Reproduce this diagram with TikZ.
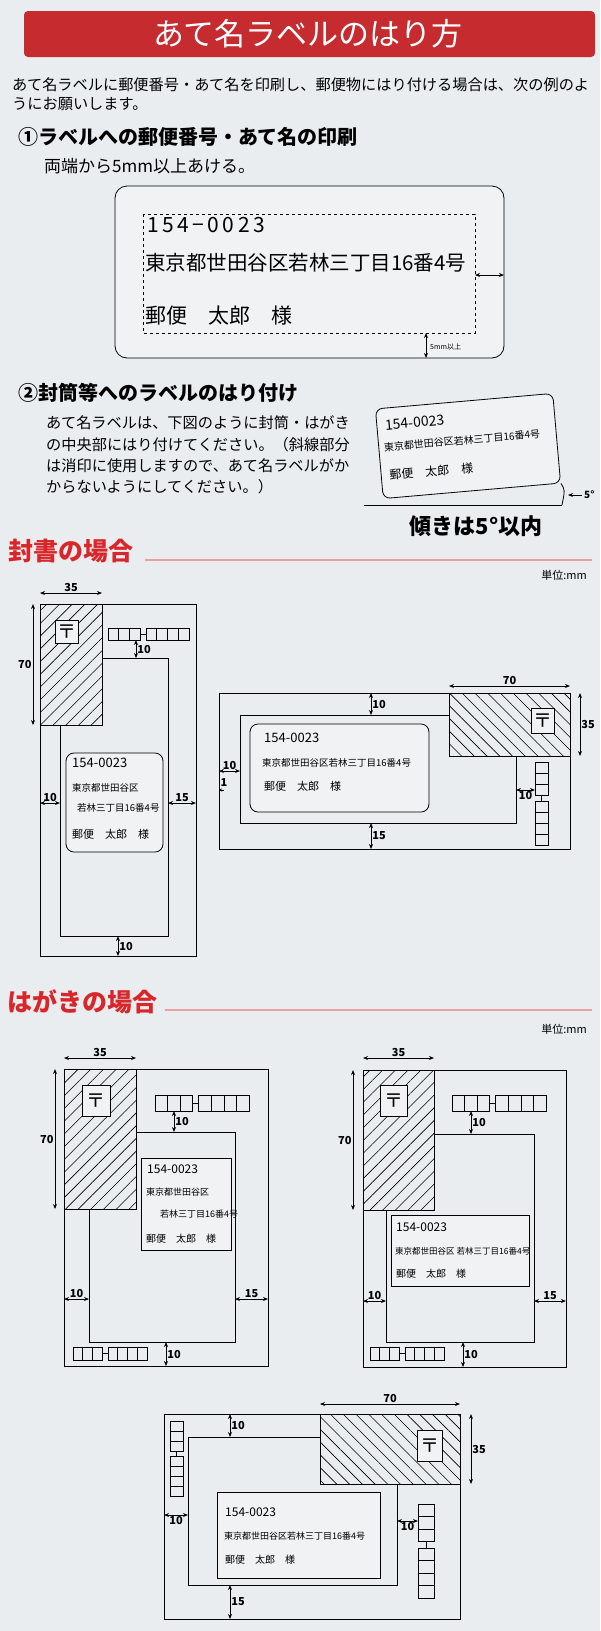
\documentclass[tikz,border=0pt]{standalone}
\usepackage{fontspec}
\setmainfont{Noto Sans CJK JP}
\usetikzlibrary{arrows.meta,patterns.meta}
\definecolor{paper}{HTML}{E9EDEF}
\definecolor{banner}{HTML}{C62B2F}
\definecolor{headred}{HTML}{D9262B}
\definecolor{rulered}{HTML}{E8A0A0}
\definecolor{labelfill}{HTML}{F0F2F3}
% zip code boxes: x y boxw boxh gap
\newcommand\zipH[5]{%
  \foreach \i in {0,...,6}{%
    \pgfmathsetmacro\xo{#1+\i*#3+(\i>2)*#5}
    \draw[zipbox] (\xo,#2) rectangle ++(#3,#4);}
  \draw[zipbox] (#1+3*#3,#2+#4/2) -- ++(#5,0);}
\newcommand\zipV[5]{%
  \foreach \i in {0,...,6}{%
    \pgfmathsetmacro\yo{#2+\i*#4+(\i>2)*#5}
    \draw[zipbox] (#1,\yo) rectangle ++(#3,#4);}
  \draw[zipbox] (#1+#3/2,#2+3*#4) -- ++(0,#5);}
\begin{document}
\begin{tikzpicture}[x=1pt,y=-1pt,
    env/.style={draw,line width=0.9pt},
    hatchN/.style={draw,line width=0.9pt,pattern={Lines[angle=45,distance=9pt,line width=0.6pt]}},
    hatchS/.style={draw,line width=0.9pt,pattern={Lines[angle=-45,distance=9pt,line width=0.6pt]}},
    addr/.style={draw,line width=0.8pt,fill=labelfill},
    zipbox/.style={line width=0.8pt},
    postbox/.style={draw,line width=0.8pt,fill=labelfill,inner sep=0pt,font=\fontsize{19}{19}\selectfont},
    dim/.style={{Stealth[length=5pt,width=4pt]}-{Stealth[length=5pt,width=4pt]},line width=0.9pt},
    dimtxt/.style={font=\fontsize{11}{11}\selectfont\bfseries,inner sep=1pt},
    body/.style={anchor=west,font=\fontsize{15.2}{15}\selectfont,inner sep=0pt},
    head/.style={anchor=west,font=\fontsize{20}{20}\selectfont\bfseries,inner sep=0pt},
    sect/.style={anchor=west,font=\fontsize{25}{25}\selectfont\bfseries,text=headred,inner sep=0pt},
    txt/.style={anchor=west,inner sep=0pt}
    ]
  \fill[paper] (0,0) rectangle (600,1631);
  \useasboundingbox (0,0) rectangle (600,1631);

  % title
  \fill[banner,rounded corners=4pt] (24,11) rectangle (595,57);
  \node[text=white,font=\fontsize{31}{31}\selectfont] (title) at (308,34) {あて名ラベルのはり方};
  \node[body] (intro1) at (12,85) {あて名ラベルに郵便番号・あて名を印刷し、郵便物にはり付ける場合は、次の例のよ};
  \node[body] (intro2) at (12,104) {うにお願いします。};

  % (1)
  \node[head] (h1) at (18,137) {①ラベルへの郵便番号・あて名の印刷};
  \node[body,font=\fontsize{17}{17}\selectfont] (h1a) at (44,166) {両端から5mm以上あける。};
  \draw[addr,rounded corners=12pt] (115,186) rectangle (504,358);
  \draw[dashed,line width=0.7pt] (143,214) rectangle (475,333);
  \node[txt,font=\fontsize{21}{21}\selectfont] (z1) at (147,225) {1\,5\,4\,−\,0\,0\,2\,3};
  \node[txt,font=\fontsize{20.5}{21}\selectfont] (a1) at (145,263) {東京都世田谷区若林三丁目16番4号};
  \node[txt,font=\fontsize{21}{21}\selectfont] (n1) at (145,316) {郵便\quad 太郎\quad 様};
  \draw[dim] (475,275) -- (504,275);
  \draw[dim] (426,333) -- (426,358);
  \node[txt,font=\fontsize{7}{7}\selectfont] (m1) at (430,347) {5mm以上};

  % (2)
  \node[head] (h2) at (18,393) {②封筒等へのラベルのはり付け};
  \node[body] (p1) at (46,423) {あて名ラベルは、下図のように封筒・はがき};
  \node[body] (p2) at (46,445) {の中央部にはり付けてください。（斜線部分};
  \node[body] (p3) at (46,466) {は消印に使用しますので、あて名ラベルがか};
  \node[body] (p4) at (46,487) {からないようにしてください。）};
  \begin{scope}[shift={(468,446)},rotate=5,transform shape]
    \node[addr,rounded corners=7pt,minimum width=178pt,minimum height=90pt] (tilt) {};
    \node[txt,font=\fontsize{14}{14}\selectfont] (z2) at (-81,-28) {154-0023};
    \node[txt,font=\fontsize{10}{10}\selectfont] (a2) at (-84,-6) {東京都世田谷区若林三丁目16番4号};
    \node[txt,font=\fontsize{12}{12}\selectfont] (n2) at (-81,22) {郵便\quad 太郎\quad 様};
  \end{scope}
  \coordinate (base0) at (364,505);
  \coordinate (base1) at (562,505);
  \draw[line width=0.8pt] (base0) -- (base1);
  \draw[line width=0.8pt] (tilt.south east) .. controls (565,490) .. (base1);
  \coordinate (ang) at (582,495);
  \draw[-{Stealth[length=5pt,width=4pt]},line width=0.9pt] (ang) -- (568,495);
  \node[txt,font=\fontsize{10}{10}\selectfont\bfseries] (deg) at (584,495) {5°};
  \node[font=\fontsize{22}{22}\selectfont\bfseries] (tilttxt) at (476,526) {傾きは5°以内};

  % envelopes
  \node[sect] (s1) at (8,551) {封書の場合};
  \draw[rulered,line width=2pt] (145,560) -- (592,560);
  \node[anchor=east,font=\fontsize{11}{11}\selectfont,inner sep=0pt] (unit1) at (587,575) {単位:mm};

  % portrait envelope
  \draw[env] (40,604) rectangle (196,956);
  \draw[hatchN] (40,604) rectangle (102,725);
  \draw[env] (60,725) -- (60,936) -- (168,936) -- (168,658) -- (102,658);
  \node[postbox,minimum width=23pt,minimum height=23pt] (t1) at (66.5,631.5) {〒};
  \zipH{108}{628}{10.8}{12}{5.5}
  \draw[addr,rounded corners=8pt] (66,753) rectangle (163,852);
  \node[txt,font=\fontsize{13}{13}\selectfont] (z3) at (72,763) {154-0023};
  \node[txt,font=\fontsize{9.5}{10}\selectfont] (a3) at (72,788) {東京都世田谷区};
  \node[txt,font=\fontsize{9.5}{10}\selectfont] (b3) at (77,808) {若林三丁目16番4号};
  \node[txt,font=\fontsize{11}{11}\selectfont] (n3) at (72,834) {郵便\quad 太郎\quad 様};
  \draw[dim] (40,593) -- node[dimtxt,above] {35} (102,593);
  \draw[dim] (33,604) -- node[dimtxt,left] {70} (33,725);
  \draw[dim] (136,640) -- node[dimtxt,right] {10} (136,658);
  \draw[dim] (40,803) -- node[dimtxt,above] {10} (60,803);
  \draw[dim] (168,803) -- node[dimtxt,above] {15} (196,803);
  \draw[dim] (118,936) -- node[dimtxt,right] {10} (118,956);

  % landscape envelope
  \draw[env] (219,693) rectangle (570,849);
  \draw[hatchS] (449,693) rectangle (570,756);
  \draw[env] (449,715) -- (240,715) -- (240,823) -- (516,823) -- (516,756);
  \node[postbox,minimum width=23pt,minimum height=25pt] (t2) at (542.5,720.5) {〒};
  \zipV{535}{762}{13}{11}{6}
  \draw[addr,rounded corners=8pt] (250,724) rectangle (429,812);
  \node[txt,font=\fontsize{13}{13}\selectfont] (z4) at (264,738) {154-0023};
  \node[txt,font=\fontsize{9.5}{10}\selectfont] (a4) at (262,763) {東京都世田谷区若林三丁目16番4号};
  \node[txt,font=\fontsize{11}{11}\selectfont] (n4) at (264,786) {郵便\quad 太郎\quad 様};
  \draw[dim] (449,686) -- node[dimtxt,above] {70} (570,686);
  \draw[dim] (580,693) -- node[dimtxt,right] {35} (580,756);
  \draw[dim] (371,693) -- node[dimtxt,right] {10} (371,715);
  \draw[dim] (219,771) -- node[dimtxt,above] {10} (240,771);
  \node[dimtxt] (one) at (224,782) {1};
  \draw[-{Stealth[length=3pt,width=3pt]},line width=0.7pt] (224,790) -- (219,790);
  \draw[dim] (516,790) -- node[dimtxt,below] {10} (535,790);
  \draw[dim] (371,823) -- node[dimtxt,right] {15} (371,849);

  % postcards
  \node[sect] (s2) at (7,1002) {はがきの場合};
  \draw[rulered,line width=2pt] (165,1010) -- (592,1010);
  \node[anchor=east,font=\fontsize{11}{11}\selectfont,inner sep=0pt] (unit2) at (587,1029) {単位:mm};

  % postcard 1
  \draw[env] (64,1069) rectangle (268,1366);
  \draw[hatchN] (64,1069) rectangle (136,1209);
  \draw[env] (136,1132) -- (235,1132) -- (235,1342) -- (89,1342) -- (89,1209);
  \node[postbox,minimum width=28pt,minimum height=31pt] (t3) at (96,1100.5) {〒};
  \zipH{155}{1095}{12.6}{16}{6}
  \zipH{73}{1347}{9.8}{13}{5.5}
  \draw[addr] (141,1158) rectangle (231,1250);
  \node[txt,font=\fontsize{12}{12}\selectfont] (z5) at (147,1169) {154-0023};
  \node[txt,font=\fontsize{9}{9}\selectfont] (a5) at (146,1192) {東京都世田谷区};
  \node[txt,font=\fontsize{9}{9}\selectfont] (b5) at (160,1214) {若林三丁目16番4号};
  \node[txt,font=\fontsize{10}{10}\selectfont] (n5) at (146,1239) {郵便\quad 太郎\quad 様};
  \draw[dim] (64,1058) -- node[dimtxt,above] {35} (136,1058);
  \draw[dim] (55,1069) -- node[dimtxt,left] {70} (55,1209);
  \draw[dim] (174,1111) -- node[dimtxt,right] {10} (174,1132);
  \draw[dim] (64,1299) -- node[dimtxt,above] {10} (89,1299);
  \draw[dim] (235,1299) -- node[dimtxt,above] {15} (268,1299);
  \draw[dim] (166,1342) -- node[dimtxt,right] {10} (166,1366);

  % postcard 2
  \draw[env] (363,1070) rectangle (566,1367);
  \draw[hatchN] (363,1070) rectangle (434,1210);
  \draw[env] (434,1134) -- (534,1134) -- (534,1342) -- (386,1342) -- (386,1210);
  \node[postbox,minimum width=27pt,minimum height=31pt] (t4) at (393.5,1100.5) {〒};
  \zipH{452}{1095}{12.6}{16}{6}
  \zipH{370}{1347}{9.8}{13}{5.5}
  \draw[addr] (391,1215) rectangle (529,1286);
  \node[txt,font=\fontsize{12}{12}\selectfont] (z6) at (396,1227) {154-0023};
  \node[txt,font=\fontsize{8.5}{9}\selectfont] (a6) at (395,1251) {東京都世田谷区 若林三丁目16番4号};
  \node[txt,font=\fontsize{10}{10}\selectfont] (n6) at (396,1274) {郵便\quad 太郎\quad 様};
  \draw[dim] (363,1058) -- node[dimtxt,above] {35} (434,1058);
  \draw[dim] (353,1070) -- node[dimtxt,left] {70} (353,1210);
  \draw[dim] (471,1111) -- node[dimtxt,right] {10} (471,1134);
  \draw[dim] (363,1301) -- node[dimtxt,above] {10} (386,1301);
  \draw[dim] (534,1301) -- node[dimtxt,above] {15} (566,1301);
  \draw[dim] (463,1342) -- node[dimtxt,right] {10} (463,1367);

  % postcard 3
  \draw[env] (164,1414) rectangle (460,1619);
  \draw[hatchS] (320,1414) rectangle (460,1484);
  \draw[env] (320,1437) -- (188,1437) -- (188,1585) -- (397,1585) -- (397,1484);
  \node[postbox,minimum width=25pt,minimum height=31pt] (t5) at (429.5,1445.5) {〒};
  \zipV{170}{1421}{13}{10}{5}
  \zipV{418}{1504}{16}{12.5}{6.5}
  \draw[addr] (217,1492) rectangle (380,1578);
  \node[txt,font=\fontsize{12}{12}\selectfont] (z7) at (225,1512) {154-0023};
  \node[txt,font=\fontsize{9}{9}\selectfont] (a7) at (224,1536) {東京都世田谷区若林三丁目16番4号};
  \node[txt,font=\fontsize{10}{10}\selectfont] (n7) at (225,1560) {郵便\quad 太郎\quad 様};
  \draw[dim] (320,1404) -- node[dimtxt,above] {70} (460,1404);
  \draw[dim] (471,1414) -- node[dimtxt,right] {35} (471,1484);
  \draw[dim] (230,1414) -- node[dimtxt,right] {10} (230,1437);
  \draw[dim] (164,1515) -- node[dimtxt,below] {10} (188,1515);
  \draw[dim] (397,1521) -- node[dimtxt,below] {10} (418,1521);
  \draw[dim] (230,1585) -- node[dimtxt,right] {15} (230,1619);
\end{tikzpicture}
\end{document}
